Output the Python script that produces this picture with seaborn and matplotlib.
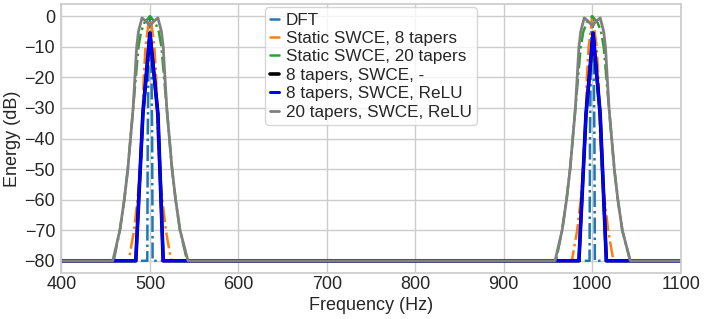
import matplotlib
matplotlib.use("Agg")
import matplotlib.pyplot as plt
import seaborn as sns

# ---- data ----
dft_freq = [400, 497, 497.5, 498.5, 500, 501.5, 502.5, 503,
            997, 997.5, 998.5, 1000, 1001.5, 1002.5, 1003, 1100]
dft_db = [-80, -80, -40, -10, 0, -10, -40, -80,
          -80, -40, -10, 0, -10, -40, -80, -80]

swce8_freq = [400, 476, 482, 486, 489, 491, 492, 493, 495, 498, 500,
              502, 505, 507, 508, 509, 511, 514, 518, 524,
              977, 983, 987, 990, 992, 993, 994, 996, 999, 1000,
              1002, 1005, 1007, 1008, 1009, 1011, 1014, 1018, 1024, 1100]
swce8_db = [-80, -80, -70, -60, -50, -40, -30, -20, -10, -3, 0,
            -3, -10, -20, -30, -40, -50, -60, -70, -80,
            -80, -70, -60, -50, -40, -30, -20, -10, -3, 0,
            -3, -10, -20, -30, -40, -50, -60, -70, -80, -80]

swce20_freq = [400, 459, 466, 471, 475, 478, 481, 484, 487, 490, 494, 500,
               506, 510, 513, 516, 519, 522, 525, 529, 534, 542,
               959, 966, 971, 975, 978, 981, 984, 987, 990, 994, 1000,
               1006, 1010, 1013, 1016, 1019, 1022, 1025, 1029, 1034, 1043, 1100]
swce20_db = [-80, -80, -70, -60, -50, -40, -30, -20, -10, -5, -2, 0,
             -2, -5, -10, -20, -30, -40, -50, -60, -70, -80,
             -80, -70, -60, -50, -40, -30, -20, -10, -5, -2, 0,
             -2, -5, -10, -20, -30, -40, -50, -60, -70, -80, -80]

t8_freq = [400, 484, 492, 500, 509, 515, 985, 993, 1001, 1009, 1016, 1100]
t8_db = [-80, -80, -32, -5.5, -32, -80, -80, -32, -5.5, -32, -80, -80]

t8relu_freq = [400, 484, 492, 500, 509, 515, 985, 993, 1001, 1009, 1016, 1100]
t8relu_db = [-80, -80, -32, -5.5, -32, -80, -80, -32, -5.5, -32, -80, -80]

t20relu_freq = [400, 458, 466, 471, 475, 478, 481, 483, 485, 487, 491, 495, 500,
                505, 509, 513, 515, 517, 519, 522, 525, 529, 534, 543,
                958, 966, 971, 975, 978, 981, 983, 985, 987, 991, 995, 1000,
                1005, 1009, 1013, 1015, 1017, 1019, 1022, 1025, 1029, 1034, 1043, 1100]
t20relu_db = [-80, -80, -70, -60, -50, -40, -30, -20, -10, -5, -0.5, -1.5, -3,
              -1.5, -0.5, -5, -10, -20, -30, -40, -50, -60, -70, -80,
              -80, -70, -60, -50, -40, -30, -20, -10, -5, -0.5, -1.5, -3,
              -1.5, -0.5, -5, -10, -20, -30, -40, -50, -60, -70, -80, -80]

labels = ["DFT", "Static SWCE, 8 tapers", "Static SWCE, 20 tapers",
          "8 tapers, SWCE, -", "8 tapers, SWCE, ReLU", "20 tapers, SWCE, ReLU"]
xticks = [400, 500, 600, 700, 800, 900, 1000, 1100]
yticks = [0, -10, -20, -30, -40, -50, -60, -70, -80]

# ---- plot ----
sns.set_theme(style="whitegrid")
plt.rcParams['font.family'] = ['Liberation Sans', 'DejaVu Sans']

fig = plt.figure(figsize=(7.06, 3.19), dpi=100)
ax = fig.add_axes([0.0871, 0.1442, 0.877, 0.843])

specs = [
    (dft_freq, dft_db, "#1f77b4", "-.", 1.8),
    (swce8_freq, swce8_db, "#ff7f0e", "-.", 1.8),
    (swce20_freq, swce20_db, "#2ca02c", "-.", 1.8),
    (t8_freq, t8_db, "black", "-", 2.6),
    (t8relu_freq, t8relu_db, "#0000ff", "-", 2.2),
    (t20relu_freq, t20relu_db, "#808080", "-", 2.0),
]
for (fx, fy, c, ls, lw), lab in zip(specs, labels):
    sns.lineplot(x=fx, y=fy, ax=ax, color=c, linestyle=ls, linewidth=lw,
                 label=lab, sort=False, estimator=None)

ax.set_xlim(400, 1100)
ax.set_ylim(-84, 4)
ax.set_xticks(xticks)
ax.set_yticks(yticks)
ax.tick_params(axis="x", labelsize=13, length=0, pad=2.3)
ax.tick_params(axis="y", labelsize=13, length=0, pad=4.5)
ax.set_xlabel("Frequency (Hz)", fontsize=13)
ax.set_ylabel("Energy (dB)", fontsize=13)
ax.xaxis.set_label_coords(0.5, -0.088)
ax.yaxis.set_label_coords(-0.066, 0.5)

leg = ax.legend(loc="upper center", fontsize=12.3, handlelength=0.5,
                handletextpad=0.4, labelspacing=0.2, borderaxespad=0.2,
                borderpad=0.3)
for h in leg.get_lines():
    h.set_linestyle("-")

fig.savefig("out.png", dpi=100)
